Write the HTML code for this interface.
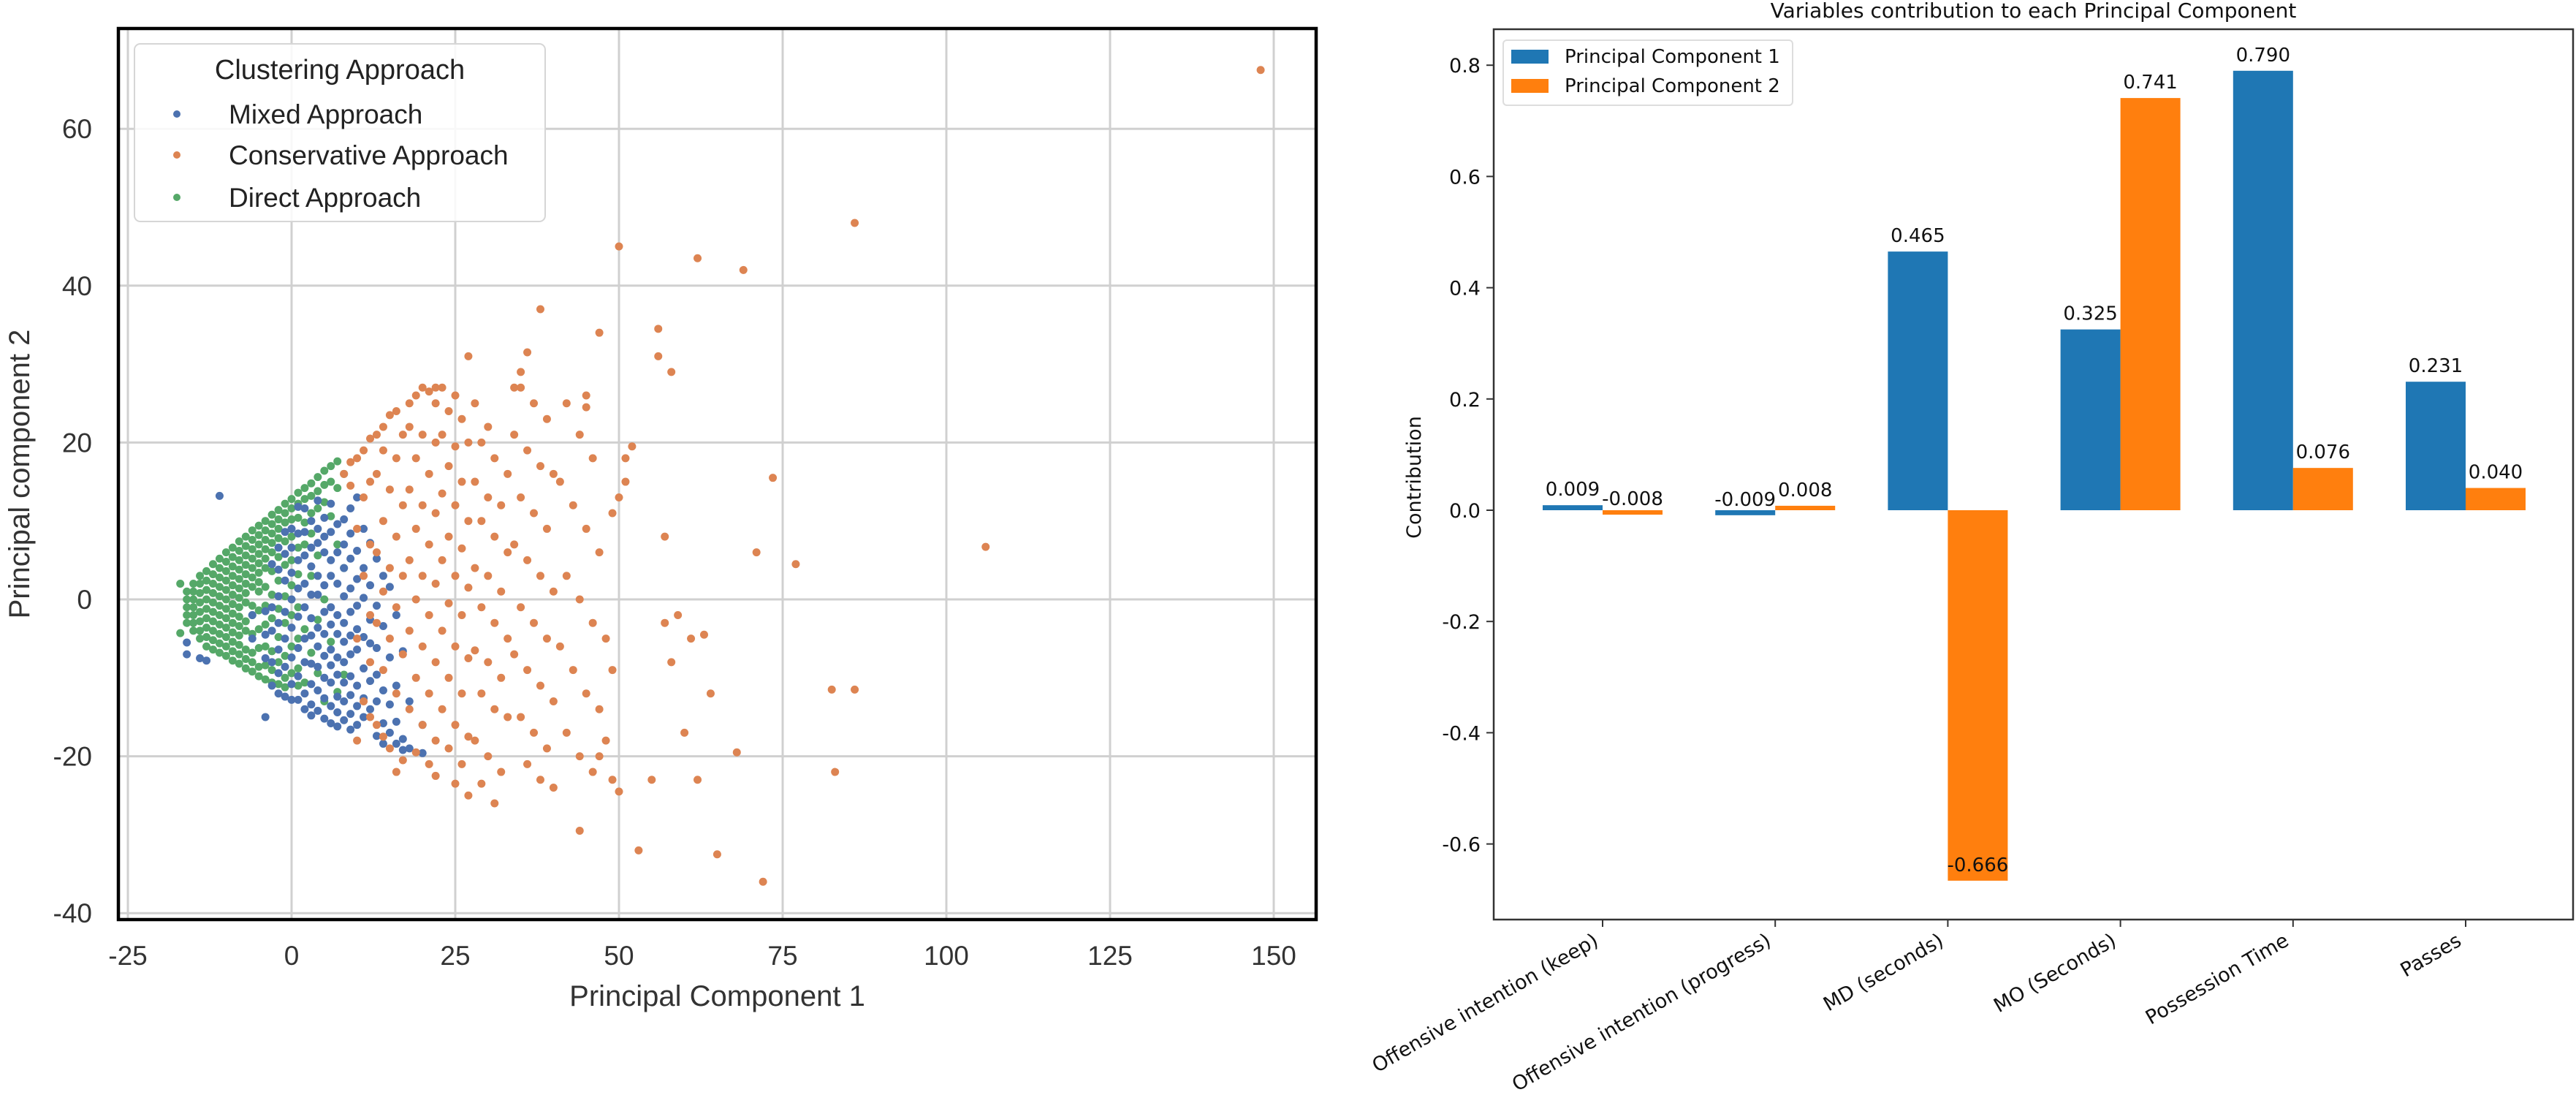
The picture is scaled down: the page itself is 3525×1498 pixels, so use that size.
<!DOCTYPE html>
<html><head><meta charset="utf-8"><style>
html,body{margin:0;padding:0;background:#fff;}
svg{display:block;}
</style></head><body>
<svg id="fig" width="3525" height="1498" viewBox="0 0 3525 1498" xmlns="http://www.w3.org/2000/svg">
<rect width="3525" height="1498" fill="#fff"/>
<g id="scatter"></g>
<g id="bars"></g>
</svg>
<script>
// ===== Scatter data =====
const scatterXTicks = [-25, 0, 25, 50, 75, 100, 125, 150];
const scatterYTicks = [-40, -20, 0, 20, 40, 60];
const greenColX = [-17,-16,-15,-14,-13,-12,-11,-10,-9,-8,-7,-6,-5,-4,-3,-2,-1,0,1,2,3,4,5,6,7,8];
const greenColY = [
 [2,-4.3],[1,0,-1,-2,-3],[2,1,0,-1,-2,-3,-4],[3,2,0.8,-0.4,-1.6,-2.8,-4,-5],
 [3.6,2.4,1.2,0,-1.2,-2.4,-3.6,-4.8,-6],[4.5,3.2,2,0.8,-0.4,-1.6,-2.8,-4,-5.2,-6.4],
 [5.2,4,2.8,1.6,0.4,-0.8,-2,-3.2,-4.4,-5.6,-6.8],[6,4.8,3.6,2.4,1.2,0,-1.2,-2.4,-3.6,-4.8,-6,-7.2],
 [6.6,5.4,4.2,3,1.8,0.6,-0.6,-1.8,-3,-4.2,-5.4,-6.6,-7.8],[7.4,6.2,5,3.8,2.6,1.4,0.2,-1,-2.2,-3.4,-4.6,-5.8,-7,-8.2],
 [8,6.8,5.6,4.4,3.2,2,0.8,-0.4,-2.8,-4,-6.4,-7.6,-8.8],[8.8,7.6,6.4,5.2,4,2.8,1.6,-0.8,-2,-4.4,-6.8,-8,-9.2],
 [9.4,8.2,7,5.8,4.6,3.4,2.2,1,-1.4,-3.8,-6.2,-8.6,-9.8],[10,8.8,7.6,6.4,5.2,4,1.6,-0.8,-3.2,-6,-8.4,-10.2],
 [10.8,9.6,8.4,7.2,6,3.6,0.6,-2.4,-6.6,-9,-10.6],[11.4,10.2,9,7.8,5.4,2.4,-1.2,-4.8,-8,-10.8],
 [12.2,11,9.8,7.4,4.4,0.4,-3,-7.2,-10,-11.2],[12.8,11.6,10.2,8,5,1.8,-2,-6,-9.4],
 [13.6,12.2,10.4,6.6,3.2,-1,-5,-8.8,-11],[14.2,12.8,9.8,7,-3.8,-10.6],[14.8,13.2,11,8.4,3,-6.8],
 [15.6,13.8,11.6,5.6,-2.6,-9.4],[16.4,14.6,12.4,0,-13],[17,15,10.6,-5.4],[17.6,14.2,7,-11.8],[16,4,-9.6]
];
const blueColX = [-16,-14,-13,-11,-6,-4,-3,-2,-1,0,1,2,3,4,5,6,7,8,9,10,11,12,13,14,15,16,17,18,20];
const blueColY = [
 [-5.5,-7],[-7.5],[-7.8],[13.2],[-2,-5],[-1.5,-4.5,-7.5,-15],[4.5,-1,-4,-8,-11],
 [6.6,3.8,0.4,-3,-6.4,-9.4,-12],[8.6,5.8,2.4,-1.6,-5,-8.6,-12.4],[9,6.6,3.4,0,-3.6,-7.4,-10.8,-12.8],
 [11.8,8.4,5,1.4,-2.2,-6.2,-9.8,-12.8],[11.6,8.6,5.6,2,-1,-5,-8,-12,-14],
 [10,6.6,4.2,0.6,-2.4,-4.6,-8.2,-10.8,-13.4,-14.8],[12.6,9,7.2,3,0.6,-3.6,-6,-8.6,-11.6,-14.2],
 [10.4,8,6,1.8,-1.6,-4.4,-7.2,-10,-12.6,-15.2],[12.2,8.6,5,3,-1,-3.2,-6.4,-8.4,-10.6,-13.6,-15.8],
 [9.6,6,2,-2,-4.4,-7.4,-9.6,-12.4,-14.4,-16.2],[10.2,7,4,0.4,-3,-5.4,-8,-10.6,-13,-15.4],
 [11.6,8.4,5.2,1.4,-1.6,-4.6,-7,-9.8,-12.2,-14.6,-16.6],[13,6.2,2.6,-0.8,-3.8,-6.4,-11,-13.6,-16],
 [9,4,0.2,-4.8,-8.8,-12.6,-15],[7.2,1.8,-2.6,-5.6,-10.4,-14],[5.2,-0.8,-6.2,-9.6,-13,-17.4],
 [3,-3.4,-11.6,-15.8,-18.4],[1.6,-7.4,-13.4,-17],[-2,-11,-15.6,-18.4],[-6.6,-17.8,-19.2],[-13,-19],[-16,-19.6]
];
const orangeX = [148,86,50,62,69,38,56,47,36,56,58,35,34,45,45,27,22,73.5,106,71,77,57,51,50,49,51,52,82.5,86,83,68,72,65,53,44,62,55,50,49,47,60,64,58,61,59,57,48,49,63,
 8,9,10,11,12,9,11,12,10,12,11,12,10,12,11,12,10,
 13,14,15,16,14,16,17,13,15,17,14,16,13,15,17,14,16,13,15,17,14,16,13,15,17,16,14,
 18,19,20,21,22,18,20,22,19,21,18,20,22,19,21,18,20,22,19,21,18,20,22,19,21,18,20,22,21,19,22,
 23,25,24,26,23,25,27,24,26,23,25,27,24,26,23,25,27,24,26,23,25,27,24,26,23,25,27,24,26,25,27,
 28,30,29,31,33,28,30,32,29,31,33,28,30,32,29,31,33,28,30,32,29,31,33,28,30,32,29,31,
 35,37,39,34,36,38,40,35,37,39,34,36,38,40,35,37,39,34,36,38,40,35,37,39,36,38,40,
 42,44,46,41,43,45,47,42,44,46,41,43,45,47,42,44,46,48];
const orangeY = [67.5,48,45,43.5,42,37,34.5,34,31.5,31,29,29,27,26,24.5,31,27,15.5,6.7,6,4.5,8,15,13,11,18,19.5,-11.5,-11.5,-22,-19.5,-36,-32.5,-32,-29.5,-23,-23,-24.5,-23,-20,-17,-12,-8,-5,-2,-3,-5,-9,-4.5,
 16,17.5,18,19,20.5,14.5,13,15,9,7,3,-2,-5,-8,-13,-15,-18,
 21,22,23.5,24,19,18,21,16,14,12,10,8,6,4,3,1,-1,-3,-5,-7,-9,-12,-16,-19,-20.5,-22,-17.5,
 25,26,27,26.5,25,22,21,20,18,16,14,12,11,9,7,5,3,2,0,-2,-4,-6,-8,-10,-12,-14,-16,-18,-21,-19.5,-22.5,
 27,26,24,23,21,19.5,20,17,15,13.5,12,10,8,6.5,5,3,1.5,-0.5,-2,-4,-6,-7.5,-10,-12,-14,-16,-17.5,-19,-21,-23.5,-25,
 25,22,20,18,16,15,13,12,10,8,6,4,3,1,-1,-3,-5,-6.5,-8,-10,-12,-14,-15,-18,-20,-22,-23.5,-26,
 27,25,23,21,19,17,16,13,11,9,7,5,3,1,-1,-3,-5,-7,-9,-11,-13,-15,-17,-19,-21,-23,-24,
 25,21,18,15,12,9,6,3,0,-3,-6,-9,-12,-14,-17,-20,-22,-18];

// ===== Bar data =====
const barCategories = ["Offensive intention (keep)","Offensive intention (progress)","MD (seconds)","MO (Seconds)","Possession Time","Passes"];
const pc1Values = [0.009,-0.009,0.465,0.325,0.790,0.231];
const pc2Values = [-0.008,0.008,-0.666,0.741,0.076,0.040];
const barYTicks = [-0.6,-0.4,-0.2,0.0,0.2,0.4,0.6,0.8];

const NS = "http://www.w3.org/2000/svg";
function mk(parent, tag, attrs, text){
  const e = document.createElementNS(NS, tag);
  for (const k in attrs) e.setAttribute(k, attrs[k]);
  if (text !== undefined) e.textContent = text;
  parent.appendChild(e);
  return e;
}

// ===== Scatter =====
(function(){
  const g = document.getElementById('scatter');
  const L=162, R=1801, T=39, B=1258;
  const sx = v => 399 + v*8.96;
  const sy = v => 820 - v*10.73;
  const F = '"Liberation Sans", Arial, sans-serif';
  for (const t of scatterXTicks){
    const l = mk(g,'line',{x1:sx(t),x2:sx(t),y1:T,y2:B,stroke:'#d0d0d0','stroke-width':3});
    
    
    const tx = mk(g,'text',{x:sx(t),y:1320,'text-anchor':'middle','font-family':F,'font-size':37,fill:'#333'}, t);
    
    
  }
  for (const t of scatterYTicks){
    const l = mk(g,'line',{x1:L,x2:R,y1:sy(t),y2:sy(t),stroke:'#d0d0d0','stroke-width':3});
    
    
    const tx = mk(g,'text',{x:126,y:sy(t)+13,'text-anchor':'end','font-family':F,'font-size':37,fill:'#333'}, t);
    
    
  }
  function dot(x,y,c,name){
    const d = mk(g,'circle',{cx:sx(x),cy:sy(y),r:5.5,fill:c});
    
    
  }
  for (let i=0;i<greenColX.length;i++) for (const y of greenColY[i]) dot(greenColX[i],y,'#55a868','direct-point');
  for (let i=0;i<blueColX.length;i++) for (const y of blueColY[i]) dot(blueColX[i],y,'#4c72b0','mixed-point');
  for (let i=0;i<orangeX.length;i++) dot(orangeX[i],orangeY[i],'#dd8452','conservative-point');
  const fr = mk(g,'rect',{x:L,y:T,width:R-L,height:B-T,fill:'none',stroke:'#000','stroke-width':4.5});
  
  
  const xl = mk(g,'text',{x:(L+R)/2,y:1376,'text-anchor':'middle','font-family':F,'font-size':40,fill:'#333'},'Principal Component 1');
  
  
  const yl = mk(g,'text',{x:0,y:0,'text-anchor':'middle','font-family':F,'font-size':40,fill:'#333',transform:'translate(40,'+((T+B)/2)+') rotate(-90)'},'Principal component 2');
  
  
  // legend
  const lg = mk(g,'g',{});
  
  
  mk(lg,'rect',{x:184,y:60,width:562,height:243,rx:8,fill:'#fff','fill-opacity':0.85,stroke:'#d6d6d6','stroke-width':2});
  const lt = mk(lg,'text',{x:465,y:108,'text-anchor':'middle','font-family':F,'font-size':38,fill:'#222'},'Clustering Approach');
  
  
  const ents = [['Mixed Approach','#4c72b0',156],['Conservative Approach','#dd8452',212],['Direct Approach','#55a868',270]];
  for (const e of ents){
    const c = mk(lg,'circle',{cx:242,cy:e[2],r:5,fill:e[1]});
    
    
    const t = mk(lg,'text',{x:313,y:e[2]+13,'font-family':F,'font-size':37,fill:'#222'},e[0]);
    
    
  }
})();

// ===== Bars =====
(function(){
  const g = document.getElementById('bars');
  const L=2044, R=3521, T=40, B=1258;
  const F = '"DejaVu Sans", "Liberation Sans", sans-serif';
  const y = v => 698 - v*761;
  const cx = i => 2193 + i*236.2;
  const bw = 82;
  for (let i=0;i<barCategories.length;i++){
    const v1 = pc1Values[i], v2 = pc2Values[i];
    const r1 = mk(g,'rect',{x:cx(i)-bw,y:Math.min(y(v1),y(0)),width:bw,height:Math.max(Math.abs(y(v1)-y(0)),1),fill:'#1f77b4'});
    
    
    const r2 = mk(g,'rect',{x:cx(i),y:Math.min(y(v2),y(0)),width:bw,height:Math.max(Math.abs(y(v2)-y(0)),1),fill:'#ff7f0e'});
    
    
    const t1 = mk(g,'text',{x:cx(i)-bw/2,y:y(v1)-13,'text-anchor':'middle','font-family':F,'font-size':26,fill:'#111'},v1.toFixed(3));
    
    
    const t2 = mk(g,'text',{x:cx(i)+bw/2,y:y(v2)-13,'text-anchor':'middle','font-family':F,'font-size':26,fill:'#111'},v2.toFixed(3));
    
    
    const tk = mk(g,'line',{x1:cx(i),x2:cx(i),y1:B,y2:B+10,stroke:'#333','stroke-width':2});
    
    
    const xl = mk(g,'text',{x:0,y:0,'text-anchor':'end','font-family':F,'font-size':27,fill:'#111',transform:'translate('+(cx(i)-4)+','+(B+34)+') rotate(-30)'},barCategories[i]);
    
    
  }
  for (const t of barYTicks){
    const tk = mk(g,'line',{x1:L-10,x2:L,y1:y(t),y2:y(t),stroke:'#333','stroke-width':2});
    
    
    const tx = mk(g,'text',{x:L-18,y:y(t)+10,'text-anchor':'end','font-family':F,'font-size':27,fill:'#111'},t.toFixed(1));
    
    
  }
  const fr = mk(g,'rect',{x:L,y:T,width:R-L,height:B-T,fill:'none',stroke:'#333','stroke-width':2.5});
  
  
  const ti = mk(g,'text',{x:(L+R)/2,y:24,'text-anchor':'middle','font-family':F,'font-size':28,fill:'#111'},'Variables contribution to each Principal Component');
  
  
  const yl = mk(g,'text',{x:0,y:0,'text-anchor':'middle','font-family':F,'font-size':27,fill:'#111',transform:'translate(1944,653) rotate(-90)'},'Contribution');
  
  
  const lg = mk(g,'g',{});
  
  
  mk(lg,'rect',{x:2057,y:55,width:396,height:89,rx:5,fill:'#fff',stroke:'#ddd','stroke-width':2});
  const items = [['Principal Component 1','#1f77b4',68],['Principal Component 2','#ff7f0e',108]];
  for (const it of items){
    const p = mk(lg,'rect',{x:2068,y:it[2],width:51,height:19,fill:it[1]});
    
    
    const t = mk(lg,'text',{x:2141,y:it[2]+18,'font-family':F,'font-size':26,fill:'#111'},it[0]);
    
    
  }
})();
</script>
</body></html>
